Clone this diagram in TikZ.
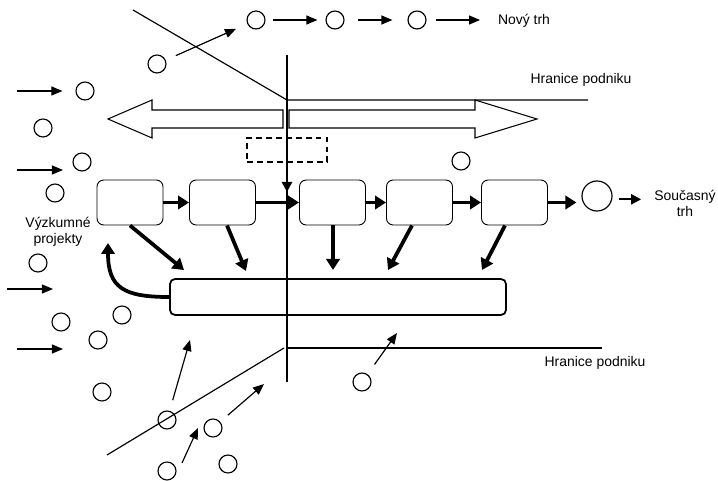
\documentclass[tikz,border=0pt]{standalone}
\usepackage{fontspec}
\setmainfont{Liberation Sans}
\usetikzlibrary{arrows.meta,calc}

\begin{document}
\begin{tikzpicture}
    [%%%%%%%%%%%%%%%%%%%%%%%%%%%%%%
        x=0.03cm,y=-0.03cm,
        bubble/.style={circle,draw=black,line width=1pt,minimum size=0.54cm,inner sep=0pt},
        proc/.style={rectangle,rounded corners=0.2cm,draw=black,line width=0.8pt,minimum width=1.98cm,minimum height=1.35cm,inner sep=0pt},
        flow/.style={line width=3.2pt,-{Triangle[length=0.33cm,width=0.4cm]}},
        push/.style={line width=1pt,-{Triangle[length=0.33cm,width=0.27cm]}},
        border/.style={line width=1pt},
        lbl/.style={font=\fontsize{11.9}{13.6}\selectfont,align=center,inner sep=0pt}
    ]%%%%%%%%%%%%%%%%%%%%%%%%%%%%%%

\useasboundingbox (0,0) rectangle (718,481);

% boundaries of the firm
\draw[border] (133,10) -- (287,100) -- (588,100);
\draw[border] (107,455) -- (284,348);
\draw[border] (287,348) -- (602,348);
\draw[border] (287,55) -- (287,382);

% block arrows
\draw[line width=0.9pt] (283,110) -- (152,110) -- (152,100) -- (108,119) -- (152,138) -- (152,128) -- (283,128) -- cycle;
\draw[line width=0.9pt] (289,110) -- (475,110) -- (475,100) -- (537,119) -- (475,138) -- (475,128) -- (289,128) -- cycle;

% labels
\node[lbl] (novy) at (524,21) {Nový trh};
\node[lbl] (hr1) at (581,80) {Hranice podniku};
\node[lbl] (hr2) at (595,363) {Hranice podniku};
\node[lbl] (soucasny) at (685,203) {Současný\\trh};
\node[lbl] (vyzkum) at (58,232) {Výzkumné\\projekty};

% process row
\node[proc] (b1) at (130,202.5){};
\node[proc] (b2) at (222.5,202.5){};
\node[proc] (b3) at (332.5,202.5){};
\node[proc] (b4) at (419.5,202.5){};
\node[proc] (b5) at (514.5,202.5){};
\node[circle,draw=black,line width=1pt,minimum size=0.9cm,inner sep=0pt] (S) at (597,196){};
\node[rectangle,rounded corners=0.15cm,draw=black,line width=1.5pt,minimum width=10.08cm,minimum height=1.08cm] (w) at (338,297){};
\node[rectangle,draw=black,line width=1.3pt,dash pattern=on 5pt off 3.5pt,minimum width=2.4cm,minimum height=0.72cm] (d) at (287,150){};

\draw[flow] (b1.east) -- (b2.west);
\draw[flow] (b2.east) -- (b3.west);
\draw[flow] (b3.east) -- (b4.west);
\draw[flow] (b4.east) -- (b5.west);
\draw[flow,shorten >=0.15cm] (b5.east) -- (b5.east -| S.west);
\draw[line width=1.8pt,-{Triangle[length=0.3cm,width=0.3cm]},shorten <=0.18cm,shorten >=0.39cm] ([yshift=-0.1cm]S.east) -- ([yshift=-0.1cm]S.east -| soucasny.west);

% dotted link from the dashed box
\coordinate (dd) at (287,192);
\draw[line width=2.5pt,dash pattern=on 2.5pt off 2pt,-{Triangle[length=0.3cm,width=0.3cm]}] (d.south) -- (dd);

% arrows down to the wide box
\coordinate (t1) at (184,270);
\coordinate (t2) at (246,271);
\coordinate (t3) at (333,270);
\coordinate (t4) at (388,270);
\coordinate (t5) at (482,270);
\draw[flow] (b1.south) -- (t1);
\draw[flow] ($(b2.south)+(4.5,0)$) -- (t2);
\draw[flow] ($(b3.south)+(0.5,0)$) -- (t3);
\draw[flow] ($(b4.south)+(-7.5,0)$) -- (t4);
\draw[flow] ($(b5.south)+(-9.5,0)$) -- (t5);

\coordinate (rp) at (108,243);
\draw[flow] (w.west) .. controls +(-45,0) and +(0,45) .. (rp);

% ideas, top
\node[bubble] (c0) at (157,64){};
\node[bubble] (c1) at (256,20){};
\node[bubble] (c2) at (335,20){};
\node[bubble] (c3) at (417,20){};
\coordinate (e0) at (480,20);
\draw[push,shorten <=0.33cm,shorten >=0.37cm] (c0) -- (c1);
\draw[push,shorten <=0.21cm,shorten >=0.24cm] (c1) -- (c2);
\draw[push,shorten <=0.39cm,shorten >=0.45cm] (c2) -- (c3);
\draw[push,shorten <=0.27cm] (c3) -- (e0);

% ideas, left
\node[bubble] (L1) at (85,91){};
\node[bubble] (L2) at (43,128){};
\node[bubble] (L3) at (82,162){};
\node[bubble] (L4) at (55,193){};
\node[bubble] (L5) at (38,263){};
\node[bubble] (L6) at (61,322){};
\node[bubble] (L7) at (122,315){};
\node[bubble] (L8) at (98,340){};
\node[bubble] (L9) at (102,392){};
\coordinate (i1) at (17,91);
\coordinate (i2a) at (17,170);
\coordinate (i2b) at (63,170);
\coordinate (i3a) at (7,289);
\coordinate (i3b) at (53,289);
\coordinate (i4a) at (17,349);
\coordinate (i4b) at (63,349);
\draw[push,shorten >=0.39cm] (i1) -- (L1);
\draw[push] (i2a) -- (i2b);
\draw[push] (i3a) -- (i3b);
\draw[push] (i4a) -- (i4b);

% ideas, bottom
\node[bubble] (B1) at (167,420){};
\node[bubble] (B2) at (213,428){};
\node[bubble] (B3) at (167,471){};
\node[bubble] (B4) at (228,464){};
\node[bubble] (M1) at (362,382){};
\node[bubble] (R1) at (461,161){};
\coordinate (e1) at (190,340);
\coordinate (e2) at (264,384);
\coordinate (e3a) at (182,463);
\coordinate (e3b) at (198,428);
\coordinate (e4) at (397,333);
\draw[push,shorten <=0.33cm] (B1) -- (e1);
\draw[push,shorten <=0.3cm] (B2) -- (e2);
\draw[push] (e3a) -- (e3b);
\draw[push,shorten <=0.36cm] (M1) -- (e4);

\end{tikzpicture}
\end{document}
